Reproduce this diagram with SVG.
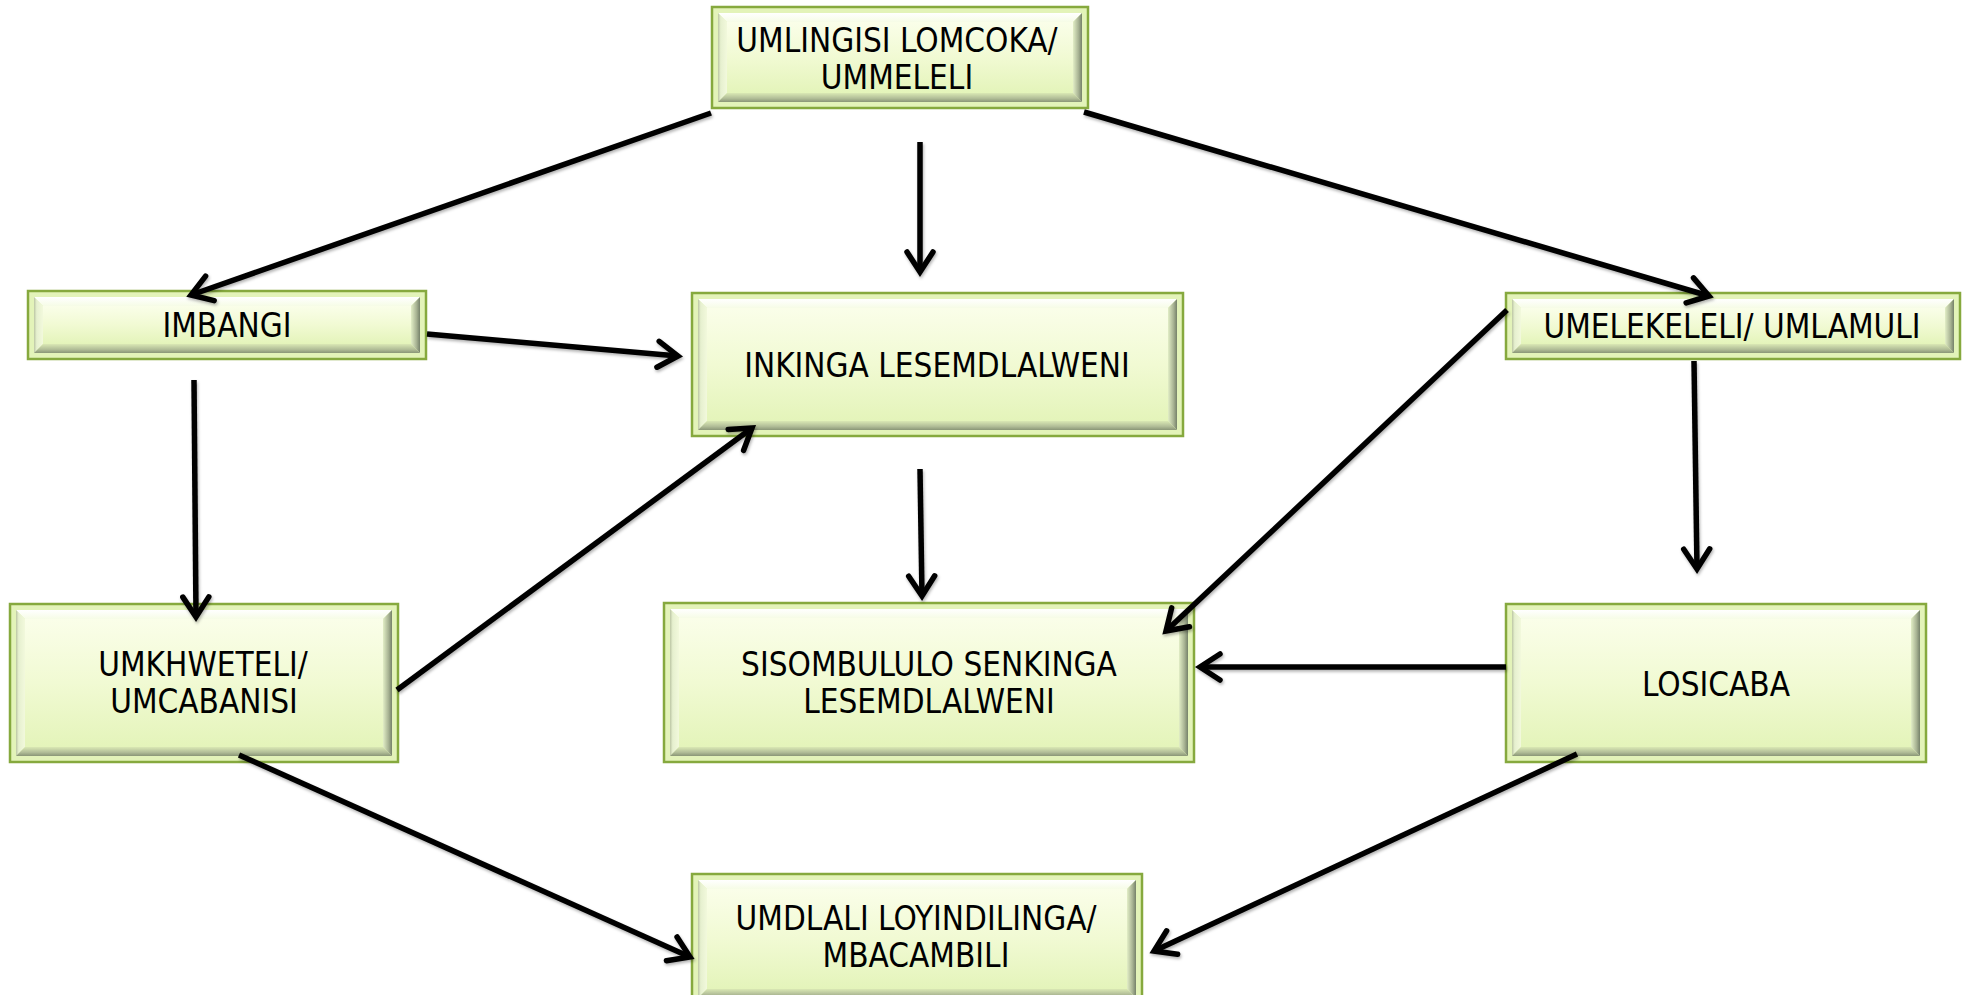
<svg xmlns="http://www.w3.org/2000/svg" width="1971" height="995" viewBox="0 0 1971 995">
<style>
.sh{fill:#5a7a28}
.out{fill:#e3f3b9;stroke:#86a93e;stroke-width:2.5}
.bt{fill:url(#gt)}
.bl{fill:url(#gl)}
.br{fill:url(#gr)}
.bb{fill:url(#gb)}
.face{fill:url(#gf)}
.lbl{font-family:"DejaVu Sans Condensed","DejaVu Sans",sans-serif;font-size:33px;fill:#000;text-anchor:middle}
.con line{stroke:#000;stroke-width:5.5;fill:none;marker-end:url(#arr)}
</style>
<defs>
<linearGradient id="gt" x1="0" y1="0" x2="0" y2="1"><stop offset="0" stop-color="#ffffff"/><stop offset="1" stop-color="#f6fce6"/></linearGradient>
<linearGradient id="gl" x1="0" y1="0" x2="1" y2="0"><stop offset="0" stop-color="#bcc6a4"/><stop offset="0.3" stop-color="#e6f0cf"/><stop offset="1" stop-color="#f2f9dc"/></linearGradient>
<linearGradient id="gr" x1="0" y1="0" x2="1" y2="0"><stop offset="0" stop-color="#e2eec6"/><stop offset="0.6" stop-color="#a9b494"/><stop offset="1" stop-color="#76826a"/></linearGradient>
<linearGradient id="gb" x1="0" y1="0" x2="0" y2="1"><stop offset="0" stop-color="#dae8b4"/><stop offset="0.6" stop-color="#b1bd97"/><stop offset="1" stop-color="#8a9677"/></linearGradient>
<linearGradient id="gf" x1="0" y1="0" x2="0" y2="1"><stop offset="0" stop-color="#fafee9"/><stop offset="0.5" stop-color="#f1fad3"/><stop offset="1" stop-color="#e4f4ba"/></linearGradient>
<marker id="arr" markerUnits="userSpaceOnUse" markerWidth="60" markerHeight="60" viewBox="-30 -30 60 60" refX="0" refY="0" orient="auto">
<path d="M-20,-13 L0,0 L-20,13" fill="none" stroke="#000" stroke-width="5.5" stroke-linecap="round" stroke-linejoin="miter"/>
</marker>
<filter id="ds" x="-5%" y="-5%" width="110%" height="110%"><feDropShadow dx="1" dy="2" stdDeviation="1.5" flood-color="#000" flood-opacity="0.3"/></filter>
</defs>
<rect width="1971" height="995" fill="#fff"/>

<g id="n-umlingisi">
<rect class="sh" x="713" y="8" width="376" height="101"/>
<rect class="out" x="712" y="7" width="376" height="101"/>
<polygon class="bt" points="718,13 1082,13 1073,22 727,22"/>
<polygon class="bl" points="718,13 727,22 727,93 718,102"/>
<polygon class="br" points="1082,13 1082,102 1073,93 1073,22"/>
<polygon class="bb" points="718,102 1082,102 1073,93 727,93"/>
<rect class="face" x="727" y="22" width="346" height="71"/>
<text class="lbl" x="897" y="52">UMLINGISI LOMCOKA/</text>
<text class="lbl" x="897" y="89">UMMELELI</text>
</g>

<g id="n-imbangi">
<rect class="sh" x="29" y="292" width="398" height="68"/>
<rect class="out" x="28" y="291" width="398" height="68"/>
<polygon class="bt" points="34,297 420,297 411,306 43,306"/>
<polygon class="bl" points="34,297 43,306 43,344 34,353"/>
<polygon class="br" points="420,297 420,353 411,344 411,306"/>
<polygon class="bb" points="34,353 420,353 411,344 43,344"/>
<rect class="face" x="43" y="306" width="368" height="38"/>
<text class="lbl" x="227" y="337">IMBANGI</text>
</g>

<g id="n-inkinga">
<rect class="sh" x="693" y="294" width="491" height="143"/>
<rect class="out" x="692" y="293" width="491" height="143"/>
<polygon class="bt" points="698,299 1177,299 1168,308 707,308"/>
<polygon class="bl" points="698,299 707,308 707,421 698,430"/>
<polygon class="br" points="1177,299 1177,430 1168,421 1168,308"/>
<polygon class="bb" points="698,430 1177,430 1168,421 707,421"/>
<rect class="face" x="707" y="308" width="461" height="113"/>
<text class="lbl" x="937" y="377">INKINGA LESEMDLALWENI</text>
</g>

<g id="n-umelekeleli">
<rect class="sh" x="1507" y="294" width="454" height="66"/>
<rect class="out" x="1506" y="293" width="454" height="66"/>
<polygon class="bt" points="1512,299 1954,299 1945,308 1521,308"/>
<polygon class="bl" points="1512,299 1521,308 1521,344 1512,353"/>
<polygon class="br" points="1954,299 1954,353 1945,344 1945,308"/>
<polygon class="bb" points="1512,353 1954,353 1945,344 1521,344"/>
<rect class="face" x="1521" y="308" width="424" height="36"/>
<text class="lbl" x="1732" y="338">UMELEKELELI/ UMLAMULI</text>
</g>

<g id="n-umkhweteli">
<rect class="sh" x="11" y="605" width="388" height="158"/>
<rect class="out" x="10" y="604" width="388" height="158"/>
<polygon class="bt" points="16,610 392,610 383,619 25,619"/>
<polygon class="bl" points="16,610 25,619 25,747 16,756"/>
<polygon class="br" points="392,610 392,756 383,747 383,619"/>
<polygon class="bb" points="16,756 392,756 383,747 25,747"/>
<rect class="face" x="25" y="619" width="358" height="128"/>
<text class="lbl" x="203" y="676">UMKHWETELI/</text>
<text class="lbl" x="204" y="713">UMCABANISI</text>
</g>

<g id="n-sisombululo">
<rect class="sh" x="665" y="604" width="530" height="159"/>
<rect class="out" x="664" y="603" width="530" height="159"/>
<polygon class="bt" points="670,609 1188,609 1179,618 679,618"/>
<polygon class="bl" points="670,609 679,618 679,747 670,756"/>
<polygon class="br" points="1188,609 1188,756 1179,747 1179,618"/>
<polygon class="bb" points="670,756 1188,756 1179,747 679,747"/>
<rect class="face" x="679" y="618" width="500" height="129"/>
<text class="lbl" x="929" y="676">SISOMBULULO SENKINGA</text>
<text class="lbl" x="929" y="713">LESEMDLALWENI</text>
</g>

<g id="n-losicaba">
<rect class="sh" x="1507" y="605" width="420" height="158"/>
<rect class="out" x="1506" y="604" width="420" height="158"/>
<polygon class="bt" points="1512,610 1920,610 1911,619 1521,619"/>
<polygon class="bl" points="1512,610 1521,619 1521,747 1512,756"/>
<polygon class="br" points="1920,610 1920,756 1911,747 1911,619"/>
<polygon class="bb" points="1512,756 1920,756 1911,747 1521,747"/>
<rect class="face" x="1521" y="619" width="390" height="128"/>
<text class="lbl" x="1716" y="696">LOSICABA</text>
</g>

<g id="n-umdlali">
<rect class="sh" x="693" y="875" width="450" height="130"/>
<rect class="out" x="692" y="874" width="450" height="130"/>
<polygon class="bt" points="698,880 1136,880 1127,889 707,889"/>
<polygon class="bl" points="698,880 707,889 707,989 698,998"/>
<polygon class="br" points="1136,880 1136,998 1127,989 1127,889"/>
<polygon class="bb" points="698,998 1136,998 1127,989 707,989"/>
<rect class="face" x="707" y="889" width="420" height="100"/>
<text class="lbl" x="916" y="930">UMDLALI LOYINDILINGA/</text>
<text class="lbl" x="916" y="967">MBACAMBILI</text>
</g>

<g id="connectors" class="con" filter="url(#ds)">
<line x1="711" y1="113" x2="191" y2="295"/>
<line x1="920" y1="142" x2="920" y2="272"/>
<line x1="1084" y1="112" x2="1709" y2="296"/>
<line x1="427" y1="334" x2="678" y2="356"/>
<line x1="194" y1="380" x2="196" y2="617"/>
<line x1="397" y1="690" x2="752" y2="428"/>
<line x1="920" y1="469" x2="922" y2="596"/>
<line x1="1507" y1="310" x2="1166" y2="631"/>
<line x1="1694" y1="361" x2="1697" y2="569"/>
<line x1="1506" y1="667" x2="1200" y2="667"/>
<line x1="239" y1="755" x2="690" y2="957"/>
<line x1="1577" y1="754" x2="1154" y2="951"/>
</g>
</svg>
